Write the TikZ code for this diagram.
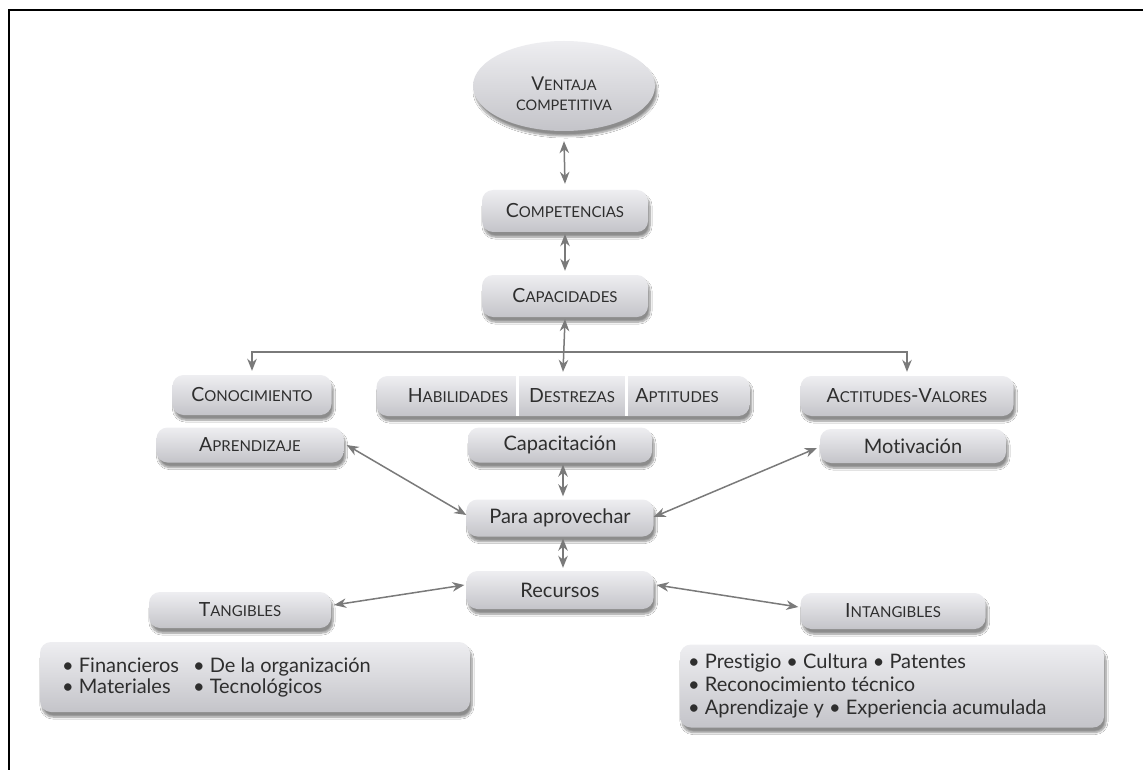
\documentclass[tikz,border=0pt]{standalone}
\usepackage{fontspec}
\setmainfont[Ligatures={NoCommon}]{Lato}
\usetikzlibrary{arrows.meta,shapes.geometric,shadows.blur}
\definecolor{txt}{HTML}{2E2E2E}
\definecolor{btop}{HTML}{EEEEF1}
\definecolor{bbot}{HTML}{C4C4C9}
\definecolor{arrc}{HTML}{7A7A7A}
\newcommand{\SCx}[2]{{\fontsize{19.5}{22}\selectfont #1}{\fontsize{15}{18}\selectfont #2}}
\begin{document}
\begin{tikzpicture}[x=1pt,y=-1pt,
  box/.style 2 args={rounded corners=11pt, top color=btop, bottom color=bbot, draw=none,
    minimum width=#1, minimum height=#2, inner sep=0pt, text=txt,
    font=\fontsize{20}{24}\selectfont,
    blur shadow={shadow xshift=2pt, shadow yshift=-5pt, shadow blur steps=8, shadow opacity=45}},
  lbl/.style={text=txt, inner sep=0pt, font=\fontsize{20}{24}\selectfont},
  con/.style={draw=arrc, line width=1.5pt, {Stealth[length=12pt,width=9.5pt]}-{Stealth[length=12pt,width=9.5pt]}},
  oneway/.style={draw=arrc, line width=1.5pt, -{Stealth[length=12pt,width=9.5pt]}}]
\useasboundingbox (0,0) rectangle (1143,770);
\fill[white] (0,0) rectangle (1143,770);
\draw[line width=2.2pt] (9,770) -- (9,10) -- (1143,10);

% nodes
\node[ellipse, minimum width=182, minimum height=90, inner sep=0pt, top color=btop, bottom color=bbot,
  blur shadow={shadow xshift=2pt, shadow yshift=-5pt, shadow blur steps=8, shadow opacity=45}] (vent) at (564,86) {};
\node[lbl, align=center, font=\fontsize{15}{20}\selectfont] (ventT) at (564,94)
  {{\fontsize{19}{20}\selectfont V}{\fontsize{14.5}{20}\selectfont ENTAJA}\\{\fontsize{14.5}{20}\selectfont COMPETITIVA}};
\node[box={166}{42}] (comp) at (565,211) {\SCx{C}{OMPETENCIAS}};
\node[box={166}{42}] (capa) at (565,296) {\SCx{C}{APACIDADES}};
\node[box={159}{40}] (cono) at (252,395) {\SCx{C}{ONOCIMIENTO}};
\node[box={373}{40}] (row) at (563,396) {};
\draw[white, line width=3pt] (517,376) -- (517,416);
\draw[white, line width=3pt] (626,376) -- (626,416);
\node[lbl] (habT) at (458,396) {\SCx{H}{ABILIDADES}};
\node[lbl] (desT) at (572,396) {\SCx{D}{ESTREZAS}};
\node[lbl] (aptT) at (677,396) {\SCx{A}{PTITUDES}};
\node[box={213}{40}] (acti) at (907,396) {\SCx{A}{CTITUDES}-\SCx{V}{ALORES}};
\node[box={187}{35}] (apre) at (250,445) {\SCx{A}{PRENDIZAJE}};
\node[box={184}{35}] (capt) at (560,445) {Capacitación};
\node[box={186}{34}] (moti) at (913,446) {Motivación};
\node[box={187}{37}] (para) at (560,518) {Para aprovechar};
\node[box={187}{38}] (recu) at (560,590) {Recursos};
\node[box={182}{36}] (tang) at (240,610) {\SCx{T}{ANGIBLES}};
\node[box={185}{36}] (inta) at (893,611) {\SCx{I}{NTANGIBLES}};
\node[box={430}{70}] (tlist) at (255,677) {};
\node[lbl, anchor=west, align=left] (tlistT) at (62,678)
  {\begin{tabular}{@{}l@{\hspace{14pt}}l@{}}• Financieros & • De la organización\\[-3pt] • Materiales & • Tecnológicos\end{tabular}};
\node[box={424}{83}] (ilist) at (892,686) {};
\node[lbl, anchor=west, align=left, font=\fontsize{20}{23}\selectfont] (ilistT) at (688,686)
  {• Prestigio • Cultura • Patentes\\ • Reconocimiento técnico\\ • Aprendizaje y • Experiencia acumulada};

% connectors
\draw[con] ([yshift=-10pt]vent.south) -- ([yshift=6pt]comp.north);
\draw[con] ([yshift=-2pt]comp.south) -- ([yshift=4pt]capa.north);
\draw[con] ([yshift=-2pt]capa.south) -- ([yshift=4pt]row.north);
\coordinate (br) at (565,352);
\draw[oneway] (br) -| ([yshift=4pt]cono.north);
\draw[oneway] (br) -| ([yshift=4pt]acti.north);
\draw[con] ([xshift=3pt]apre.east) -- ([yshift=3pt]para.west);
\draw[con] ([xshift=-3pt,yshift=-2pt]moti.west) -- ([yshift=1pt]para.east);
\draw[con] ([xshift=3pt,yshift=-2pt]capt.south) -- ([xshift=3pt,yshift=3pt]para.north);
\draw[con] ([xshift=3pt,yshift=-2pt]para.south) -- ([xshift=3pt,yshift=3pt]recu.north);
\draw[con] ([xshift=-2pt,yshift=5pt]recu.west) -- ([xshift=3pt,yshift=5pt]tang.east);
\draw[con] ([xshift=3pt,yshift=5pt]recu.east) -- ([xshift=-2pt,yshift=4pt]inta.west);
\end{tikzpicture}
\end{document}
